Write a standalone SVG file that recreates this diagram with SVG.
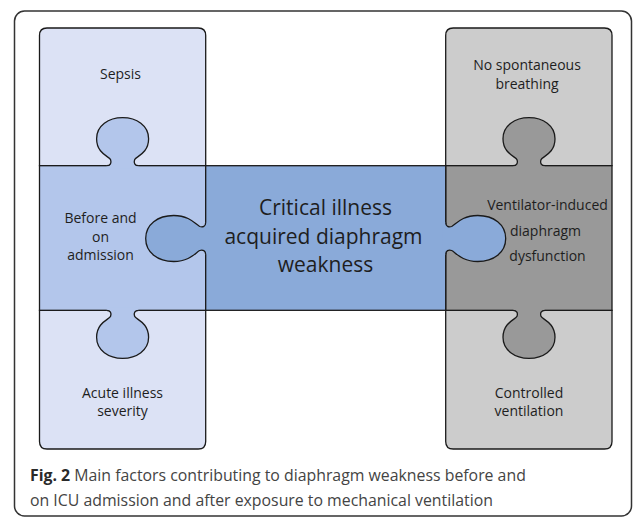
<svg xmlns="http://www.w3.org/2000/svg" xmlns:xlink="http://www.w3.org/1999/xlink" width="633" height="518" viewBox="0 0 633 518">
<style>
.pc{stroke:#1a1a1a;stroke-width:1.3}
.ln{fill:none;stroke:#1a1a1a;stroke-width:1.3}
.t{font-family:"Open Sans","Liberation Sans",sans-serif;font-size:14px;fill:#1e1e1e;text-anchor:middle}
.big{font-family:"Open Sans","Liberation Sans",sans-serif;font-size:21px;fill:#1e1e1e;text-anchor:middle}
.cap{font-family:"Open Sans","Liberation Sans",sans-serif;font-size:15.85px;fill:#444}
.lb{fill:#dce2f5}.lm{fill:#b3c6eb}.cc{fill:#8aaad9}.rl{fill:#cccccc}.rm{fill:#999999}
</style>
<defs>
<path id="vtf" d="M-16,0 C-12,0 -11,-3 -12,-6 C-13,-9 -26,-12 -26,-27 C-26,-40 -14,-48 0,-48 C14,-48 26,-40 26,-27 C26,-12 13,-9 12,-6 C11,-3 12,0 16,0 L16,3 L-16,3 Z"/>
<path id="vtl" d="M-16,0 C-12,0 -11,-3 -12,-6 C-13,-9 -26,-12 -26,-27 C-26,-40 -14,-48 0,-48 C14,-48 26,-40 26,-27 C26,-12 13,-9 12,-6 C11,-3 12,0 16,0"/>
<path id="htf" d="M0,-16 C0,-12 -3,-11 -6,-12 C-10,-14 -16,-23 -32,-23 C-48,-23 -60,-14 -60,0 C-60,14 -48,23 -32,23 C-16,23 -10,14 -6,12 C-3,11 0,12 0,16 L3,16 L3,-16 Z"/>
<path id="htl" d="M0,-16 C0,-12 -3,-11 -6,-12 C-10,-14 -16,-23 -32,-23 C-48,-23 -60,-14 -60,0 C-60,14 -48,23 -32,23 C-16,23 -10,14 -6,12 C-3,11 0,12 0,16"/>
</defs>
<rect x="14.5" y="11" width="617" height="505" rx="10" fill="#fff" stroke="#333" stroke-width="1.5"/>

<g id="sepsis">
<path class="pc lb" d="M39.5,165.7 V35.5 Q39.5,28 47,28 H198.2 Q205.7,28 205.7,35.5 V165.7 Z"/>
<text class="t" x="120.5" y="79">Sepsis</text>
</g>
<g id="acute-illness-severity">
<path class="pc lb" d="M39.5,310.3 V441.5 Q39.5,449 47,449 H198.2 Q205.7,449 205.7,441.5 V310.3 Z"/>
<text class="t" x="122.5" y="397.5">Acute illness</text>
<text class="t" x="122.5" y="415.5">severity</text>
</g>
<g id="no-spontaneous-breathing">
<path class="pc rl" d="M445.7,165.7 V35.5 Q445.7,28 453.2,28 H604.5 Q612,28 612,35.5 V165.7 Z"/>
<text class="t" x="527" y="70">No spontaneous</text>
<text class="t" x="527" y="88.5">breathing</text>
</g>
<g id="controlled-ventilation">
<path class="pc rl" d="M445.7,310.3 V441.5 Q445.7,449 453.2,449 H604.5 Q612,449 612,441.5 V310.3 Z"/>
<text class="t" x="529" y="397.5">Controlled</text>
<text class="t" x="529" y="416">ventilation</text>
</g>
<g id="before-and-on-admission">
<rect class="pc lm" x="39.5" y="165.7" width="166.2" height="144.6"/>
<use href="#vtf" xlink:href="#vtf" class="lm" transform="translate(122.6,165.7)"/>
<use href="#vtl" xlink:href="#vtl" class="ln" transform="translate(122.6,165.7)"/>
<use href="#vtf" xlink:href="#vtf" class="lm" transform="translate(122.6,310.3) scale(1,-1)"/>
<use href="#vtl" xlink:href="#vtl" class="ln" transform="translate(122.6,310.3) scale(1,-1)"/>
</g>
<g id="ventilator-induced-diaphragm-dysfunction">
<rect class="pc rm" x="445.7" y="165.7" width="166.3" height="144.6"/>
<use href="#vtf" xlink:href="#vtf" class="rm" transform="translate(529,165.7)"/>
<use href="#vtl" xlink:href="#vtl" class="ln" transform="translate(529,165.7)"/>
<use href="#vtf" xlink:href="#vtf" class="rm" transform="translate(529,310.3) scale(1,-1)"/>
<use href="#vtl" xlink:href="#vtl" class="ln" transform="translate(529,310.3) scale(1,-1)"/>
</g>
<g id="critical-illness-acquired-diaphragm-weakness">
<rect class="pc cc" x="205.7" y="165.7" width="240" height="144.6"/>
<use href="#htf" xlink:href="#htf" class="cc" transform="translate(205.7,238.5)"/>
<use href="#htl" xlink:href="#htl" class="ln" transform="translate(205.7,238.5)"/>
<use href="#htf" xlink:href="#htf" class="cc" transform="translate(445.7,238.5) scale(-1,1)"/>
<use href="#htl" xlink:href="#htl" class="ln" transform="translate(445.7,238.5) scale(-1,1)"/>
<text class="big" x="325.5" y="215">Critical illness</text>
<text class="big" x="323.5" y="244">acquired diaphragm</text>
<text class="big" x="325.5" y="272">weakness</text>
</g>
<g id="labels">
<text class="t" x="100.5" y="223">Before and</text>
<text class="t" x="100.5" y="241.5">on</text>
<text class="t" x="100.5" y="260">admission</text>
<text class="t" x="547.5" y="209.5">Ventilator-induced</text>
<text class="t" x="545.5" y="235.5">diaphragm</text>
<text class="t" x="547.5" y="261">dysfunction</text>
</g>
<g id="caption">
<text class="cap" x="30" y="481"><tspan font-weight="bold" fill="#2a2a2a">Fig. 2</tspan> Main factors contributing to diaphragm weakness before and</text>
<text class="cap" x="30" y="505.5">on ICU admission and after exposure to mechanical ventilation</text>
</g>
</svg>
